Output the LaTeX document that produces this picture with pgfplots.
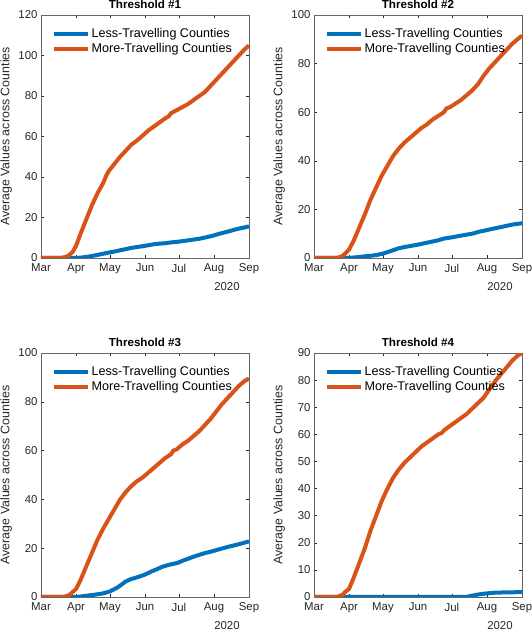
\documentclass[border=0pt]{standalone}
\usepackage{pgfplots}
\pgfplotsset{compat=1.18}
\usepackage{fontspec}
\setmainfont{Liberation Sans}
\definecolor{mblue}{rgb}{0,0.447,0.741}
\definecolor{morange}{rgb}{0.85,0.325,0.098}
\definecolor{mgray}{gray}{0.15}
\pgfplotsset{
  mstyle/.style={
    scale only axis, width=208pt, height=243pt,
    xmin=0, xmax=184, ymin=0,
    xtick={0,31,61,92,122,153,184},
    xticklabels={Mar,Apr,May,Jun,Jul,Aug,Sep},
    tick align=inside, tick pos=both, major tick length=3pt,
    axis line style={gray!80!black, line width=0.5pt},
    every tick/.style={mgray, line width=0.5pt},
    tick label style={font=\fontsize{11.4}{13}\selectfont, text=mgray},
    xticklabel style={yshift=-2.5pt},
    /pgf/number format/assume math mode=true,
    ylabel={Average Values across Counties},
    ylabel style={at={(axis description cs:-0.168,0.5)}, anchor=center, font=\fontsize{12.4}{14}\selectfont, text=mgray},
    xlabel={2020},
    xlabel style={at={(axis description cs:0.894,0)}, anchor=center, yshift=-29pt, font=\fontsize{11.4}{13}\selectfont, text=mgray},
    title style={at={(0.5,1)}, anchor=south, yshift=-3.5pt, font=\bfseries\fontsize{11.6}{13}\selectfont},
    legend style={at={(0.045,0.958)}, anchor=north west, draw=none, fill=none,
      font=\fontsize{12.6}{14}\selectfont, row sep=0.5pt, inner sep=1pt},
    legend cell align=left,
    legend image code/.code={\draw[#1, line width=4pt] (0,0) -- (34pt,0);},
    every axis plot/.append style={line width=4pt, line join=round},
  }
}
\begin{document}
\begin{tikzpicture}
\path[use as bounding box] (0,0) rectangle (531pt,631pt);
% Threshold 1
\begin{axis}[mstyle, at={(41pt,373pt)}, anchor=south west, ymax=120, ytick={0,20,...,120}, title={Threshold \#1}]
\addplot[mblue] coordinates {(0,0) (31,0) (35,0.2) (40,0.5) (45,1) (50,1.5) (55,2.1) (61,2.8) (65,3.2) (70,3.8) (75,4.4) (80,5) (86,5.5) (92,6) (96,6.4) (100,6.8) (105,7.1) (110,7.3) (115,7.7) (121,8) (126,8.4) (130,8.7) (135,9.1) (140,9.5) (146,10.2) (152,11) (158,12) (165,13) (170,13.8) (175,14.5) (180,15.1) (184,15.6)};
\addplot[morange] coordinates {(0,0) (18,0) (20,0.3) (23,0.8) (25,1.5) (28,3) (31,6) (35,12) (40,19) (45,26) (50,32) (55,37) (58,41) (60,43) (65,46.5) (70,50) (75,53) (80,56) (85,58) (90,60.5) (95,63) (100,65) (105,67) (110,69) (113,70) (115,71.5) (120,73) (125,74.5) (130,76) (135,78) (140,80) (145,82) (150,85) (155,88) (160,91) (165,94) (170,97) (175,100) (180,103) (184,105)};
\legend{Less-Travelling Counties, More-Travelling Counties}
\end{axis}
% Threshold 2
\begin{axis}[mstyle, at={(314pt,373pt)}, anchor=south west, ymax=100, ytick={0,20,...,100}, title={Threshold \#2}]
\addplot[mblue] coordinates {(0,0) (31,0) (35,0.2) (40,0.4) (45,0.7) (50,0.9) (55,1.2) (61,1.8) (65,2.4) (70,3.2) (75,4) (80,4.5) (86,5) (92,5.5) (100,6.3) (110,7.3) (115,8) (122,8.5) (130,9.2) (140,10) (146,10.8) (152,11.4) (160,12.2) (168,13) (176,13.8) (184,14.3)};
\addplot[morange] coordinates {(0,0) (20,0) (22,0.3) (25,0.8) (28,2) (31,3.5) (35,7) (40,12.5) (45,18) (50,24) (55,29) (60,34) (65,38) (70,42) (75,45) (80,47.5) (85,49.5) (90,51.5) (95,53.5) (100,55) (105,57) (110,58.5) (115,60) (117,61.5) (120,62) (125,63.5) (130,65) (135,67) (140,69) (145,71.5) (150,75) (155,78) (160,80.5) (165,83) (170,85.5) (175,88) (180,90) (184,91.5)};
\legend{Less-Travelling Counties, More-Travelling Counties}
\end{axis}
% Threshold 3
\begin{axis}[mstyle, at={(41pt,34pt)}, anchor=south west, height=244pt, ymax=100, ytick={0,20,...,100}, title={Threshold \#3}]
\addplot[mblue] coordinates {(0,0) (31,0) (35,0.2) (40,0.5) (45,0.8) (50,1.1) (55,1.5) (61,2.3) (64,3) (67,3.7) (71,5) (75,6.4) (80,7.4) (86,8.2) (92,9.2) (97,10.3) (102,11.3) (108,12.5) (114,13.3) (121,14) (126,15) (132,16) (138,17) (145,18) (152,18.8) (158,19.6) (165,20.5) (172,21.3) (178,22) (184,22.8)};
\addplot[morange] coordinates {(0,0) (20,0) (22,0.3) (25,0.8) (28,2) (31,3.3) (35,7) (40,12.5) (45,18) (50,23.5) (55,28) (60,32) (65,36) (70,40) (75,43) (80,45.5) (85,47.5) (90,49) (95,51) (100,53) (105,55) (110,57) (115,58.5) (117,60) (120,60.5) (125,62.5) (130,64) (135,66) (140,68) (145,70.5) (150,73) (155,76) (160,79) (165,81.5) (170,84) (175,86.5) (180,88.5) (184,89.5)};
\legend{Less-Travelling Counties, More-Travelling Counties}
\end{axis}
% Threshold 4
\begin{axis}[mstyle, at={(314pt,34pt)}, anchor=south west, height=244pt, ymax=90, ytick={0,10,...,90}, title={Threshold \#4}]
\addplot[mblue] coordinates {(0,0) (31,0) (60,0.05) (100,0.05) (135,0.05) (140,0.5) (145,0.9) (150,1.2) (155,1.4) (160,1.6) (170,1.7) (184,1.8)};
\addplot[morange] coordinates {(0,0) (20,0) (22,0.3) (25,0.8) (28,2) (31,3) (35,7) (40,12.5) (45,18) (50,24.5) (55,30) (60,35.5) (65,40) (70,44) (75,47) (80,49.5) (85,51.5) (90,53.5) (95,55.5) (100,57) (105,58.5) (110,60) (113,60.5) (115,61.5) (120,63) (125,64.5) (130,66) (135,67.5) (140,69.5) (145,71.5) (150,73.5) (155,76.5) (160,79.5) (165,82) (170,84.5) (175,87) (180,89) (184,90)};
\legend{Less-Travelling Counties, More-Travelling Counties}
\end{axis}
\end{tikzpicture}
\end{document}
